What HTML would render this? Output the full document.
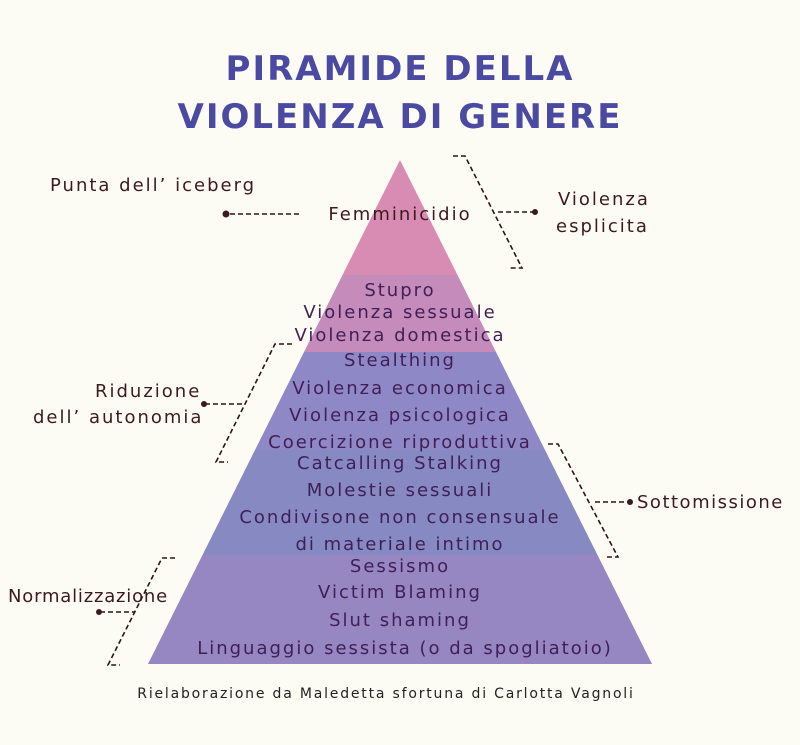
<!DOCTYPE html>
<html><head><meta charset="utf-8"><style>
html,body{margin:0;padding:0;background:#fdfcf4;}
svg{display:block}
text{font-family:"DejaVu Sans","Liberation Sans",sans-serif;}
</style></head><body>
<svg width="800" height="745" viewBox="0 0 800 745" xmlns="http://www.w3.org/2000/svg">
<rect width="800" height="745" fill="#fdfcf4"/>
<g fill="#4b4aa2" font-size="34" font-weight="bold" text-anchor="middle" letter-spacing="2">
<text x="400" y="80">PIRAMIDE DELLA</text>
<text x="400" y="128">VIOLENZA DI GENERE</text>
</g>
<defs><clipPath id="tri"><polygon points="400,160 652,664 148,664"/></clipPath></defs>
<g clip-path="url(#tri)">
<rect x="0" y="150" width="800" height="125" fill="#d88bb3"/>
<rect x="0" y="275" width="800" height="77" fill="#c58bba"/>
<rect x="0" y="352" width="800" height="98" fill="#8f88c6"/>
<rect x="0" y="450" width="800" height="105" fill="#8689c2"/>
<rect x="0" y="555" width="800" height="110" fill="#9686c2"/>
</g>
<g fill="#3f1f55" font-size="18" text-anchor="middle" letter-spacing="2">
<text x="400" y="220" fill="#3d1a1a">Femminicidio</text>
<text x="400" y="296">Stupro</text>
<text x="400" y="318">Violenza sessuale</text>
<text x="400" y="341">Violenza domestica</text>
<text x="400" y="366">Stealthing</text>
<text x="400" y="394">Violenza economica</text>
<text x="400" y="421">Violenza psicologica</text>
<text x="400" y="448">Coercizione riproduttiva</text>
<text x="400" y="469">Catcalling Stalking</text>
<text x="400" y="496">Molestie sessuali</text>
<text x="400" y="523">Condivisone non consensuale</text>
<text x="400" y="550">di materiale intimo</text>
<text x="400" y="572">Sessismo</text>
<text x="400" y="598">Victim Blaming</text>
<text x="400" y="626">Slut shaming</text>
<text x="405" y="654">Linguaggio sessista (o da spogliatoio)</text>
</g>
<g fill="#3d1a1a" font-size="18" letter-spacing="2">
<text x="50" y="191">Punta dell’ iceberg</text>
<text x="558" y="205">Violenza</text>
<text x="556" y="232">esplicita</text>
<text x="95" y="397">Riduzione</text>
<text x="33" y="423">dell’ autonomia</text>
<text x="637" y="508" letter-spacing="1.5">Sottomissione</text>
<text x="8" y="602" letter-spacing="0.8">Normalizzazione</text>
</g>
<text x="386" y="698" fill="#222" font-size="14" text-anchor="middle" letter-spacing="1.8">Rielaborazione da Maledetta sfortuna di Carlotta Vagnoli</text>
<g stroke="#2d1510" stroke-width="1.6" fill="none" stroke-dasharray="5,3">
<line x1="230" y1="214" x2="300" y2="214"/>
<polyline points="453,156 465,156 522,268 510,268"/>
<line x1="498" y1="212" x2="535" y2="212"/>
<polyline points="292,344 275,344 216,462 228,462"/>
<line x1="205" y1="404" x2="245" y2="404"/>
<polyline points="548,444 558,444 618,557 605,557"/>
<line x1="595" y1="502" x2="630" y2="502"/>
<polyline points="175,558 162,558 108,665 120,665"/>
<line x1="100" y1="612" x2="135" y2="612"/>
</g>
<g fill="#3d1a1a">
<circle cx="226" cy="214" r="3.5"/>
<circle cx="535" cy="212" r="3"/>
<circle cx="204" cy="404" r="3"/>
<circle cx="630" cy="502" r="3"/>
<circle cx="99" cy="612" r="3"/>
</g>
</svg>
</body></html>
